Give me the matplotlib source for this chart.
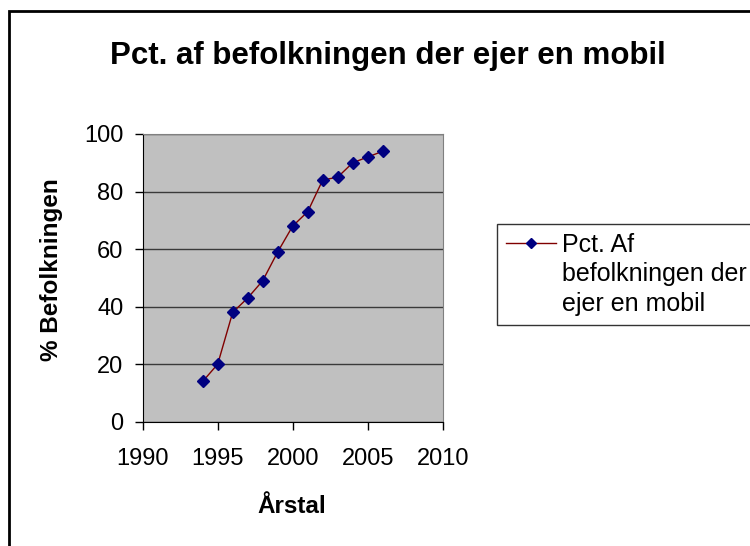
import matplotlib
matplotlib.use("Agg")
from matplotlib import pyplot as plt
from matplotlib.patches import Rectangle

plt.rcParams['font.family'] = ['Liberation Sans', 'DejaVu Sans']

years = [1994, 1995, 1996, 1997, 1998, 1999, 2000, 2001, 2002, 2003, 2004, 2005, 2006]
pct = [14, 20, 38, 43, 49, 59, 68, 73, 84, 85, 90, 92, 94]
series_label = "Pct. Af\nbefolkningen der\nejer en mobil"

fig = plt.figure(figsize=(7.5, 5.46), dpi=100)
ax = fig.add_axes([142.7 / 750, 1 - 421.7 / 546, 300 / 750, 287.7 / 546])
ax.set_facecolor("#C0C0C0")

ax.plot(years, pct, color="#800000", linewidth=1, marker="D",
        markersize=6, markerfacecolor="#000080", markeredgecolor="#000080",
        label=series_label, zorder=3)

ax.set_xlim(1990, 2010)
ax.set_ylim(0, 100)
ax.set_xticks(range(1990, 2011, 5))
ax.set_yticks(range(0, 101, 20))
ax.yaxis.grid(True, color="#3a3a3a", linewidth=1)
ax.set_axisbelow(True)
ax.tick_params(direction="out", length=6, width=1, labelsize=17, colors="black")
ax.tick_params(axis="x", pad=13)
ax.tick_params(axis="y", pad=8)
ax.spines["left"].set_color("black")
ax.spines["bottom"].set_color("black")
ax.spines["top"].set_color("#808080")
ax.spines["right"].set_color("#808080")

fig.text(388 / 750, 1 - 64 / 546, "Pct. af befolkningen der ejer en mobil",
         ha="center", va="baseline", fontsize=22.5, fontweight="bold")
fig.text(52 / 750, 1 - 270 / 546, "% Befolkningen", rotation=90,
         ha="center", va="center", fontsize=17.5, fontweight="bold")
fig.text(292 / 750, 1 - 513 / 546, "Årstal",
         ha="center", va="baseline", fontsize=17.5, fontweight="bold")

leg = fig.legend(loc="upper left", bbox_to_anchor=(497 / 750, 1 - 224 / 546),
                 fontsize=18, frameon=True, fancybox=False, handlelength=2.0,
                 handleheight=1.1, handletextpad=0.25, borderpad=0.35,
                 borderaxespad=0)
leg.get_frame().set_edgecolor("black")
leg.get_frame().set_linewidth(1)
leg.legend_handles[0].set_markersize(5)
for t in leg.get_texts():
    t.set_linespacing(1.3)
# put the legend symbol next to the first line of the label, not the middle
leg._legend_handle_box.get_children()[0].get_children()[0].align = "top"

fig.patches.append(Rectangle((8.5 / 750, -0.1), 1.2, 1.1 - 11.5 / 546,
                             transform=fig.transFigure, fill=False,
                             edgecolor="black", linewidth=2))

plt.savefig("out.png", dpi=100)
